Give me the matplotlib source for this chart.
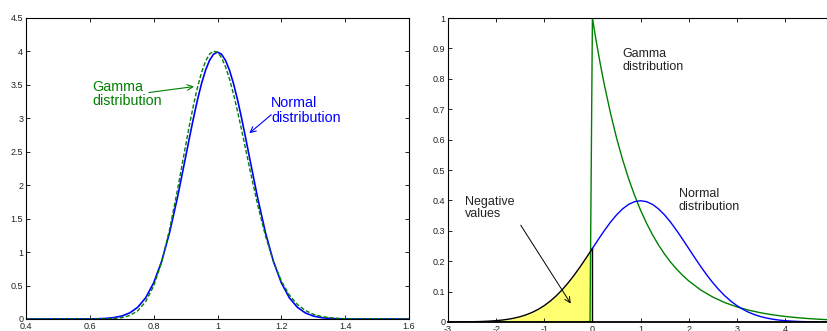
import matplotlib.pyplot as plt

plt.rcParams['font.family'] = ['Liberation Sans', 'DejaVu Sans']
plt.rcParams['axes.unicode_minus'] = False

# Left panel: normal (mean 1, sd 0.1) vs gamma (same mean / sd)
left_x = [0.4, 0.6, 0.625, 0.65, 0.675, 0.7, 0.725, 0.75, 0.775, 0.8, 0.825, 0.85, 0.875,
          0.9, 0.9125, 0.925, 0.9375, 0.95, 0.9625, 0.975, 0.9875, 1.0, 1.0125, 1.025,
          1.0375, 1.05, 1.0625, 1.075, 1.0875, 1.1, 1.125, 1.15, 1.175,
          1.2, 1.225, 1.25, 1.275, 1.3, 1.325, 1.35, 1.375, 1.4, 1.425, 1.45, 1.6]
left_normal = [0.0, 0.00134, 0.00353, 0.00873, 0.02029, 0.04432, 0.09094, 0.17528, 0.31740,
               0.53991, 0.86277, 1.29518, 1.82649, 2.41971, 2.7207, 3.01137, 3.2816,
               3.52065, 3.7185, 3.86668, 3.9584, 3.98942, 3.9584, 3.86668, 3.7185,
               3.52065, 3.2816, 3.01137, 2.7207, 2.41971, 1.82649, 1.29518, 0.86277,
               0.53991, 0.31740, 0.17528, 0.09094, 0.04432, 0.02029, 0.00873, 0.00353,
               0.00134, 0.0005, 0.0001, 0.0]
left_gamma = [0.0, 0.0001, 0.00048, 0.0019, 0.00655, 0.01969, 0.05214, 0.12271, 0.25883,
              0.49243, 0.85044, 1.34099, 1.94107, 2.59118, 2.9087, 3.20465, 3.4677,
              3.68695, 3.8532, 3.96029, 4.0050, 3.98620, 3.9067, 3.77136, 3.5873,
              3.36361, 3.1102, 2.83665, 2.5524, 2.26701, 1.72170, 1.24507, 0.85925,
              0.56706, 0.35844, 0.21742, 0.12672, 0.07113, 0.03848, 0.02011, 0.01015,
              0.00496, 0.00235, 0.00108, 0.0]
left_xticks = [0.4, 0.6, 0.8, 1, 1.2, 1.4, 1.6]
left_yticks = [0, 0.5, 1, 1.5, 2, 2.5, 3, 3.5, 4, 4.5]

# Right panel: normal (mean 1, sd 1) vs gamma (shape 1)
right_x = [-3, -2.875, -2.75, -2.625, -2.5, -2.375, -2.25, -2.125, -2, -1.875, -1.75,
           -1.625, -1.5, -1.375, -1.25, -1.125, -1, -0.875, -0.75, -0.625, -0.5, -0.375,
           -0.25, -0.125, 0, 0.125, 0.25, 0.375, 0.5, 0.625, 0.75, 0.875, 1, 1.125, 1.25,
           1.375, 1.5, 1.625, 1.75, 1.875, 2, 2.125, 2.25, 2.375, 2.5, 2.625, 2.75, 2.875,
           3, 3.125, 3.25, 3.375, 3.5, 3.625, 3.75, 3.875, 4, 4.125, 4.25, 4.375, 4.5,
           4.625, 4.75, 4.875, 5]
right_normal = [0.000134, 0.000219, 0.000353, 0.000559, 0.000873, 0.001341, 0.002029,
                0.00302, 0.004432, 0.00640, 0.009094, 0.01273, 0.017528, 0.02377, 0.031740,
                0.04172, 0.053991, 0.06879, 0.086277, 0.10654, 0.129518, 0.15502, 0.182649,
                0.21188, 0.241971, 0.27207, 0.301137, 0.32816, 0.352065, 0.37185, 0.386668,
                0.39584, 0.398942, 0.39584, 0.386668, 0.37185, 0.352065, 0.32816, 0.301137,
                0.27207, 0.241971, 0.21188, 0.182649, 0.15502, 0.129518, 0.10654, 0.086277,
                0.06879, 0.053991, 0.04172, 0.031740, 0.02377, 0.017528, 0.01273, 0.009094,
                0.00640, 0.004432, 0.00302, 0.002029, 0.001341, 0.000873, 0.000559,
                0.000353, 0.000219, 0.000134]
gamma_x = [-3, -0.05, 0, 0.05, 0.1, 0.15, 0.2, 0.25, 0.375, 0.5, 0.625, 0.75, 0.875, 1,
           1.125, 1.25, 1.375, 1.5, 1.625, 1.75, 1.875, 2, 2.25, 2.5, 2.75, 3, 3.25, 3.5,
           3.75, 4, 4.25, 4.5, 4.75, 5]
gamma_y = [0, 0, 1.0, 0.9512, 0.9048, 0.8607, 0.8187, 0.7788, 0.6873, 0.6065, 0.5353,
           0.4724, 0.4169, 0.3679, 0.3247, 0.2865, 0.2528, 0.2231, 0.1969, 0.1738, 0.1534,
           0.1353, 0.1054, 0.0821, 0.0639, 0.0498, 0.0388, 0.0302, 0.0235, 0.0183,
           0.0143, 0.0111, 0.0087, 0.0067]
right_xticks = [-3, -2, -1, 0, 1, 2, 3, 4, 5]
right_yticks = [0, 0.1, 0.2, 0.3, 0.4, 0.5, 0.6, 0.7, 0.8, 0.9, 1]

fig = plt.figure(figsize=(8.28, 3.31), dpi=100)
ax1 = fig.add_axes([0.0314, 0.0363, 0.4626, 0.9094])
ax2 = fig.add_axes([0.5411, 0.0272, 0.465, 0.9184])


def style(ax):
    for s in ax.spines.values():
        s.set_linewidth(0.8)
    ax.tick_params(direction='in', length=3, width=0.6, top=True, right=True,
                   labelsize=6.5, pad=2, colors='black', labelcolor='#222222')


# left
ax1.plot(left_x, left_normal, color='#0000ff', lw=1.2)
ax1.plot(left_x, left_gamma, color='#008000', lw=1.0, ls=(0, (3, 1.5)))
ax1.set_xlim(0.4, 1.6)
ax1.set_ylim(0, 4.5)
ax1.set_xticks(left_xticks)
ax1.set_xticklabels(['0.4', '0.6', '0.8', '1', '1.2', '1.4', '1.6'])
ax1.set_yticks(left_yticks)
ax1.set_yticklabels(['0', '0.5', '1', '1.5', '2', '2.5', '3', '3.5', '4', '4.5'])
style(ax1)
ax1.text(0.607, 3.58, 'Gamma\ndistribution', color='#008000', fontsize=10.3,
         va='top', ha='left', linespacing=1.05)
ax1.annotate('', xy=(0.935, 3.48), xytext=(0.776, 3.38),
             arrowprops=dict(arrowstyle='->', color='#008000', lw=0.8))
ax1.text(1.168, 3.33, 'Normal\ndistribution', color='#0000ff', fontsize=10.3,
         va='top', ha='left', linespacing=1.05)
ax1.annotate('', xy=(1.093, 2.75), xytext=(1.175, 3.08),
             arrowprops=dict(arrowstyle='->', color='#0000ff', lw=0.8))

# right
neg = [i for i, v in enumerate(right_x) if v <= 0]
pos = [i for i, v in enumerate(right_x) if v >= 0]
ax2.fill_between([right_x[i] for i in neg], 0, [right_normal[i] for i in neg],
                 color='#ffff70', lw=0)
ax2.plot(gamma_x, gamma_y, color='#008000', lw=1.0)
ax2.plot([right_x[i] for i in neg], [right_normal[i] for i in neg], color='black', lw=1.0)
ax2.plot([0, 0], [0, right_normal[neg[-1]]], color='black', lw=1.0)
ax2.plot([right_x[i] for i in pos], [right_normal[i] for i in pos], color='#0000ff', lw=1.0)
ax2.set_xlim(-3, 5)
ax2.set_ylim(0, 1)
ax2.set_xticks(right_xticks)
ax2.set_yticks(right_yticks)
ax2.set_yticklabels(['0', '0.1', '0.2', '0.3', '0.4', '0.5', '0.6', '0.7', '0.8', '0.9', '1'])
style(ax2)
ax2.spines['bottom'].set_linewidth(1.3)
ax2.text(0.63, 0.9, 'Gamma\ndistribution', color='#222222', fontsize=9,
         va='top', ha='left', linespacing=1.05)
ax2.text(1.79, 0.44, 'Normal\ndistribution', color='#222222', fontsize=9,
         va='top', ha='left', linespacing=1.05)
ax2.text(-2.65, 0.415, 'Negative\nvalues', color='#222222', fontsize=9,
         va='top', ha='left', linespacing=1.05)
ax2.annotate('', xy=(-0.42, 0.053), xytext=(-1.52, 0.326),
             arrowprops=dict(arrowstyle='->', color='black', lw=0.7))

fig.savefig('out.png', dpi=100)
plt.close(fig)
